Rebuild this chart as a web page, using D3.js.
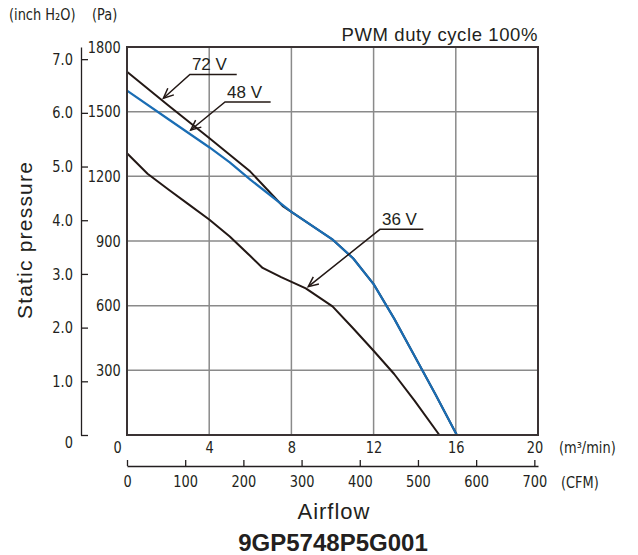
<!DOCTYPE html>
<html>
<head>
<meta charset="utf-8">
<script src="https://cdn.jsdelivr.net/npm/d3@7"></script>
<style>
  body { margin: 0; background: #fff; }
  svg { display: block; }
  .num { font-family: "Liberation Sans Narrow", "DejaVu Sans Condensed", "Liberation Sans", sans-serif; font-size: 16px; fill: #231f20; }
  .lbl { font-family: "Liberation Sans", Arial, sans-serif; fill: #231f20; }
</style>
</head>
<body>
<div class="chart"></div>
<script>
// airflow in m3/min, static pressure in Pa
var curve72x = [0, 2, 4, 6, 7.6, 8, 10, 11, 12, 13, 14, 15, 16.05];
var curve72y = [1685, 1530, 1378, 1222, 1060, 1035, 907, 820, 700, 540, 365, 190, 0];

var curve48x = [0, 2, 4, 5, 6, 8, 10, 11, 12, 13, 14, 15, 16.05];
var curve48y = [1598, 1466, 1335, 1265, 1185, 1035, 907, 820, 700, 540, 365, 190, 0];

var curve36x = [0, 1, 2, 3, 4, 5, 6, 6.6, 7.5, 8.7, 10, 11, 12, 13, 14, 15.2];
var curve36y = [1307, 1212, 1140, 1070, 1000, 921, 830, 775, 732, 680, 597, 495, 391, 283, 158, 0];

var paTicks = [300, 600, 900, 1200, 1500, 1800];
var inchTicks = [0, 1, 2, 3, 4, 5, 6, 7];
var flowTicks = [0, 4, 8, 12, 16, 20];
var cfmTicks = [0, 100, 200, 300, 400, 500, 600, 700];

// callouts: label, arrow tip (m3/min, Pa), underline start/end
var calloutNames = ["72 V", "48 V", "36 V"];
var calloutTipX = [1.77, 3.1, 8.82];
var calloutTipY = [1562, 1415, 688];
var calloutX0 = [3.06, 4.77, 12.31];
var calloutX1 = [5.34, 6.99, 14.42];
var calloutY = [1673, 1545, 954];

var PA_PER_INCH = 249.089;
var CFM_PER_CMM = 35.3147;

var width = 638, height = 555;
var margin = {top: 47, right: 100, bottom: 120, left: 127};
var squeeze = "scale(0.9,1)";   // narrow digits like the datasheet font

var svg = d3.select(".chart").append("svg")
  .attr("width", width)
  .attr("height", height);

var x = d3.scaleLinear().domain([0, 20]).range([margin.left, width - margin.right]);
var y = d3.scaleLinear().domain([0, 1800]).range([height - margin.bottom, margin.top]);
var yInch = d3.scaleLinear().domain([0, 1800 / PA_PER_INCH]).range(y.range());
var xCfm = d3.scaleLinear().domain([0, 20 * CFM_PER_CMM]).range(x.range());

var x0 = x(0), x1 = x(20), y0 = y(0), y1 = y(1800);

// grid
svg.append("g")
  .selectAll("line")
  .data([4, 8, 12, 16])
  .enter().append("line")
    .attr("x1", function(d) { return x(d); })
    .attr("x2", function(d) { return x(d); })
    .attr("y1", y1).attr("y2", y0)
    .attr("stroke", "#8a8a8a").attr("stroke-width", 1.5);

svg.append("g")
  .selectAll("line")
  .data([300, 600, 900, 1200, 1500])
  .enter().append("line")
    .attr("y1", function(d) { return y(d); })
    .attr("y2", function(d) { return y(d); })
    .attr("x1", x0).attr("x2", x1)
    .attr("stroke", "#8a8a8a").attr("stroke-width", 1.5);

// curves
var line = d3.line()
  .x(function(d) { return x(d[0]); })
  .y(function(d) { return y(d[1]); });

function pairs(xs, ys) {
  return xs.map(function(v, i) { return [v, ys[i]]; });
}

svg.append("path")
  .datum(pairs(curve36x, curve36y))
  .attr("fill", "none").attr("stroke", "#231815").attr("stroke-width", 2)
  .attr("stroke-linejoin", "round")
  .attr("d", line);

svg.append("path")
  .datum(pairs(curve72x, curve72y))
  .attr("fill", "none").attr("stroke", "#231815").attr("stroke-width", 2)
  .attr("stroke-linejoin", "round")
  .attr("d", line);

svg.append("path")
  .datum(pairs(curve48x, curve48y))
  .attr("fill", "none").attr("stroke", "#1a6db4").attr("stroke-width", 2.2)
  .attr("stroke-linejoin", "round")
  .attr("d", line);

// plot frame
svg.append("rect")
  .attr("x", x0).attr("y", y1)
  .attr("width", x1 - x0).attr("height", y0 - y1)
  .attr("fill", "none").attr("stroke", "#3a3334").attr("stroke-width", 2);

function numText(sel) {
  sel.attr("class", "num").attr("font-family", null).attr("font-size", null).attr("transform", squeeze);
}

// inch H2O axis
var inchAxis = d3.axisLeft(yInch)
  .tickValues(inchTicks)
  .tickSizeInner(-7)
  .tickSizeOuter(0)
  .tickPadding(9)
  .tickFormat(function(d) { return d === 0 ? "0" : d3.format(".1f")(d); });

var gIn = svg.append("g")
  .attr("transform", "translate(81,0)")
  .call(inchAxis);
gIn.selectAll("path, line").attr("stroke", "#231f20").attr("stroke-width", 1.3);
gIn.selectAll("text").call(numText)
  .attr("dy", function(d) { return d === 0 ? "0.75em" : "0.32em"; });

// Pa labels
var paAxis = d3.axisLeft(y).tickValues(paTicks).tickSize(0).tickPadding(7).tickFormat(d3.format("d"));
var gPa = svg.append("g")
  .attr("transform", "translate(" + x0 + ",0)")
  .call(paAxis);
gPa.select(".domain").remove();
gPa.selectAll("text").call(numText);

// m3/min axis labels
var flowAxis = d3.axisBottom(x).tickValues(flowTicks).tickSize(0).tickPadding(7);
var gFlow = svg.append("g")
  .attr("transform", "translate(0," + y0 + ")")
  .call(flowAxis);
gFlow.select(".domain").remove();
gFlow.selectAll("text").call(numText)
  .attr("dx", function(d) { return d === 0 ? -11 : (d === 20 ? -4 : 0); });

// CFM axis
var cfmAxis = d3.axisBottom(xCfm).tickValues(cfmTicks).tickSizeInner(-6).tickSizeOuter(0).tickPadding(10);
var gCfm = svg.append("g")
  .attr("transform", "translate(0,466)")
  .call(cfmAxis);
gCfm.selectAll("path, line").attr("stroke", "#231f20").attr("stroke-width", 1.3);
gCfm.selectAll("text").call(numText);

// unit labels
function unitLabel(px, py, size, str) {
  svg.append("g").attr("transform", "translate(" + px + "," + py + ")")
    .append("text").attr("class", "num").attr("font-size", size)
    .attr("transform", squeeze).text(str);
}
unitLabel(559, 453, 17, "(m\u00b3/min)");
unitLabel(561, 488, 17, "(CFM)");
unitLabel(9, 20, 14, "(inch H\u2082O)");
unitLabel(92, 20, 15, "(Pa)");

svg.append("text").attr("class", "lbl")
  .attr("x", x1).attr("y", 41)
  .attr("text-anchor", "end").attr("font-size", 18.5).attr("letter-spacing", 0.6)
  .text("PWM duty cycle 100%");

svg.append("text").attr("class", "lbl")
  .attr("transform", "translate(32,240) rotate(-90)")
  .attr("text-anchor", "middle").attr("font-size", 21).attr("letter-spacing", 1.2)
  .text("Static pressure");

svg.append("text").attr("class", "lbl")
  .attr("x", 334).attr("y", 519)
  .attr("text-anchor", "middle").attr("font-size", 22).attr("letter-spacing", 1)
  .text("Airflow");

svg.append("text").attr("class", "lbl")
  .attr("x", 333).attr("y", 551)
  .attr("text-anchor", "middle").attr("font-size", 24).attr("font-weight", "bold")
  .text("9GP5748P5G001");

// callouts
var callouts = svg.append("g");
calloutNames.forEach(function(name, i) {
  var ax = x(calloutX0[i]), bx = x(calloutX1[i]), ly = y(calloutY[i]);
  var tx = x(calloutTipX[i]), ty = y(calloutTipY[i]);
  var ang = Math.atan2(ly - ty, ax - tx);
  var len = 11, spread = 0.42;
  var h1 = [tx + len * Math.cos(ang - spread), ty + len * Math.sin(ang - spread)];
  var h2 = [tx + len * Math.cos(ang + spread), ty + len * Math.sin(ang + spread)];

  callouts.append("path")
    .attr("d", "M" + bx + "," + ly + "L" + ax + "," + ly + "L" + tx + "," + ty)
    .attr("fill", "none").attr("stroke", "#231815").attr("stroke-width", 1.5);
  callouts.append("path")
    .attr("d", "M" + h1[0] + "," + h1[1] + "L" + tx + "," + ty + "L" + h2[0] + "," + h2[1])
    .attr("fill", "none").attr("stroke", "#231815").attr("stroke-width", 1.5);
  callouts.append("text").attr("class", "lbl")
    .attr("x", ax + 2).attr("y", ly - 4)
    .attr("font-size", 17)
    .text(name);
});
</script>
</body>
</html>
